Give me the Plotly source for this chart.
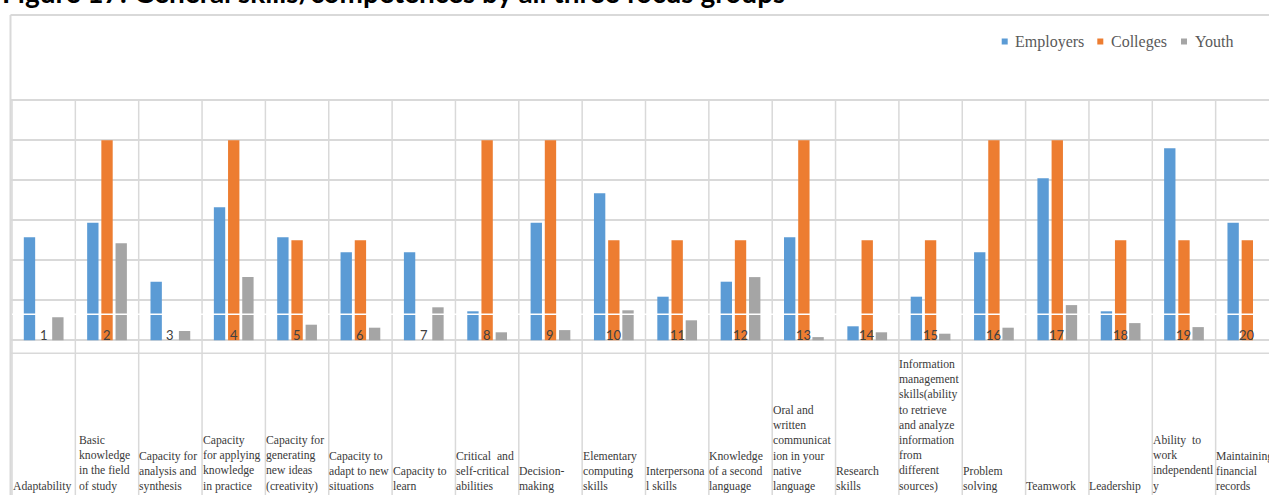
import plotly.graph_objects as go

# ---- data -------------------------------------------------------------
skill_labels = [
    ["Adaptability"],
    ["Basic", "knowledge", "in the field", "of study"],
    ["Capacity for", "analysis and", "synthesis"],
    ["Capacity", "for applying", "knowledge", "in practice"],
    ["Capacity for", "generating", "new ideas", "(creativity)"],
    ["Capacity to", "adapt to new", "situations"],
    ["Capacity to", "learn"],
    ["Critical\u00a0 and", "self-critical", "abilities"],
    ["Decision-", "making"],
    ["Elementary", "computing", "skills"],
    ["Interpersona", "l skills"],
    ["Knowledge", "of a second", "language"],
    ["Oral and", "written", "communicat", "ion in your", "native", "language"],
    ["Research", "skills"],
    ["Information", "management", "skills(ability", "to retrieve", "and analyze",
     "information", "from", "different", "sources)"],
    ["Problem", "solving"],
    ["Teamwork"],
    ["Leadership"],
    ["Ability\u00a0 to", "work", "independentl", "y"],
    ["Maintaining", "financial", "records"],
]
skill_numbers = [str(n) for n in range(1, 21)]

employers = [51.5, 58.8, 29.3, 66.5, 51.5, 44.0, 44.0, 14.5, 58.8, 73.5,
             21.8, 29.3, 51.5, 7.0, 21.8, 44.0, 81.0, 14.5, 96.0, 58.8]
colleges = [0, 100, 0, 100, 50, 50, 0, 100, 100, 50,
            50, 50, 100, 50, 50, 100, 100, 50, 50, 50]
youth = [11.5, 48.5, 4.6, 31.6, 7.8, 6.3, 16.5, 4.0, 5.1, 15.0,
         10.0, 31.6, 1.6, 4.0, 3.3, 6.3, 17.6, 8.6, 6.6, 0]

series_names = ["Employers", "Colleges", "Youth"]
series_colors = ["#5B9BD5", "#ED7D31", "#A5A5A5"]
gridlines = [0, 20, 40, 60, 80, 100, 120]

# ---- page geometry (pixels) ------------------------------------------
W, H = 1269, 495
FRAME_X = 10.5       # left edge of the chart frame
COL_LEFT = 12.0      # left edge of the first category column
COL_W = 63.35        # width of one category column
Y0_PX = 340.3        # pixel row of value 0
PX_PER_UNIT = 2.0    # vertical pixels per value unit

x_lo = -0.5 - (COL_LEFT - FRAME_X) / COL_W
x_hi = -0.5 + (W - COL_LEFT) / COL_W
y_hi = Y0_PX / PX_PER_UNIT
y_lo = -(H - Y0_PX) / PX_PER_UNIT


def py_to_val(py):
    return (Y0_PX - py) / PX_PER_UNIT


def px_to_paper(px):
    return px / W


def py_to_paper(py):
    return 1 - py / H


x = list(range(len(skill_labels)))
fig = go.Figure()
for name, vals, col in zip(series_names, [employers, colleges, youth], series_colors):
    fig.add_trace(go.Bar(x=x, y=vals, name=name, marker=dict(color=col, line=dict(width=0)),
                         showlegend=False, hoverinfo="x+y+name"))

grid_col = "#D9D9D9"
shapes = []
# category column separators
for k in range(len(skill_labels) + 1):
    shapes.append(dict(type="line", xref="x", yref="y", x0=k - 0.5, x1=k - 0.5,
                       y0=gridlines[-1], y1=y_lo, line=dict(color=grid_col, width=1.5),
                       layer="below"))
# row under the plotting area
shapes.append(dict(type="line", xref="paper", yref="y", x0=px_to_paper(FRAME_X), x1=1,
                   y0=py_to_val(353.3), y1=py_to_val(353.3),
                   line=dict(color=grid_col, width=1.5), layer="below"))
# outer frame (top and left)
shapes.append(dict(type="line", xref="paper", yref="paper", x0=px_to_paper(FRAME_X), x1=1,
                   y0=py_to_paper(15), y1=py_to_paper(15),
                   line=dict(color=grid_col, width=2), layer="below"))
shapes.append(dict(type="line", xref="paper", yref="paper", x0=px_to_paper(FRAME_X),
                   x1=px_to_paper(FRAME_X), y0=py_to_paper(15), y1=0,
                   line=dict(color=grid_col, width=2), layer="below"))
# thin white rule running across the bars
shapes.append(dict(type="line", xref="paper", yref="y", x0=px_to_paper(COL_LEFT), x1=1,
                   y0=13, y1=13, line=dict(color="white", width=1.5), layer="above"))

annotations = []
# title
annotations.append(dict(xref="paper", yref="paper", x=px_to_paper(0), y=py_to_paper(11),
                        xanchor="left", yanchor="bottom", showarrow=False,
                        text="<b>Figure 17: General skills/competences by all three focus groups</b>",
                        font=dict(family="Lato", size=28, color="#000000")))
# skill numbers at the foot of each group
for i, s in enumerate(skill_numbers):
    annotations.append(dict(xref="x", yref="y", x=i, y=py_to_val(335), xanchor="center",
                            yanchor="middle", showarrow=False, text=s,
                            font=dict(family="Lato", size=13, color="#404040")))
# skill names in the table row (column 2 is set slightly in from its rule)
label_indent = {1: 3.5}
for i, lines in enumerate(skill_labels):
    x_px = COL_LEFT + i * COL_W - 1.5 + label_indent.get(i, 0)
    annotations.append(dict(xref="paper", yref="paper", x=px_to_paper(x_px),
                            y=py_to_paper(495.5), xanchor="left", yanchor="bottom",
                            align="left", showarrow=False, text="<br>".join(lines),
                            font=dict(family="Liberation Serif", size=11.7, color="#3A3A3A")))

# legend: coloured squares followed by series names
legend_sq_x = [1001.7, 1097.3, 1181.0]
legend_txt_x = [1012.5, 1109.0, 1193.0]
for name, col, sx, tx in zip(series_names, series_colors, legend_sq_x, legend_txt_x):
    shapes.append(dict(type="rect", xref="paper", yref="paper",
                       x0=px_to_paper(sx), x1=px_to_paper(sx + 6),
                       y0=py_to_paper(44.5), y1=py_to_paper(38.5),
                       fillcolor=col, line=dict(width=0)))
    annotations.append(dict(xref="paper", yref="paper", x=px_to_paper(tx), y=py_to_paper(42),
                            xanchor="left", yanchor="middle", showarrow=False, text=name,
                            font=dict(family="Liberation Serif", size=16, color="#595959")))

fig.update_layout(
    width=W, height=H,
    margin=dict(l=0, r=0, t=0, b=0),
    paper_bgcolor="white", plot_bgcolor="white",
    barmode="group", bargap=0.328, bargroupgap=0.2,
    xaxis=dict(range=[x_lo, x_hi], domain=[px_to_paper(FRAME_X), 1], showgrid=False,
               zeroline=False, showticklabels=False, ticks="", fixedrange=True),
    yaxis=dict(range=[y_lo, y_hi], domain=[0, 1], tickvals=gridlines, showgrid=True,
               gridcolor=grid_col, gridwidth=1.5, zeroline=False, showticklabels=False,
               ticks="", fixedrange=True),
    shapes=shapes, annotations=annotations, showlegend=False,
)

fig.write_html("out.html")
